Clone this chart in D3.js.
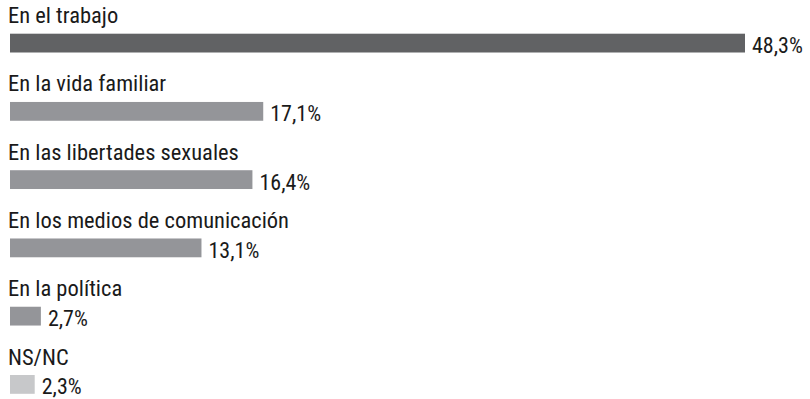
<!DOCTYPE html>
<html>
<head>
    <meta charset="utf-8">
    <script src="https://d3js.org/d3.v7.min.js"></script>
    <style type="text/css">
        body { margin:0; background:#fff; }
        text { font-family:"Roboto Condensed", Roboto, sans-serif; font-stretch:condensed; fill:#1a1a1a; }
    </style>
</head>
<body>
    <script type="text/javascript">
        let categories = ["En el trabajo", "En la vida familiar", "En las libertades sexuales",
                          "En los medios de comunicación", "En la política", "NS/NC"];
        let values = [48.3, 17.1, 16.4, 13.1, 2.7, 2.3];
        let valueLabels = ["48,3%", "17,1%", "16,4%", "13,1%", "2,7%", "2,3%"];
        let colors = ["#616264", "#949599", "#949599", "#949599", "#949599", "#c7c8ca"];

        let width = 810,
            height = 399,
            barH = 18.8;

        let svg = d3.select("body").append("svg")
            .attr("width", width)
            .attr("height", height);

        let x = d3.scaleLinear()
            .domain([0.7, 48.3])
            .range([10, 745]);

        // top of each bar
        let y = d3.scalePoint()
            .domain(categories)
            .range([33.7, 375]);

        let rows = svg.selectAll("g.row")
            .data(categories)
            .enter().append("g")
            .attr("class", "row");

        rows.append("rect")
            .attr("x", x.range()[0])
            .attr("y", d => y(d))
            .attr("width", (d, i) => x(values[i]) - x.range()[0])
            .attr("height", barH)
            .style("fill", (d, i) => colors[i]);

        rows.append("text")
            .attr("x", 8)
            .attr("y", d => y(d) - 10.5)
            .style("font-size", "22.5px")
            .text(d => d);

        rows.append("text")
            .attr("x", (d, i) => x(values[i]) + 7)
            .attr("y", d => y(d) + barH + 0.5)
            .style("font-size", "22px")
            .text((d, i) => valueLabels[i]);
    </script>
</body>
</html>
